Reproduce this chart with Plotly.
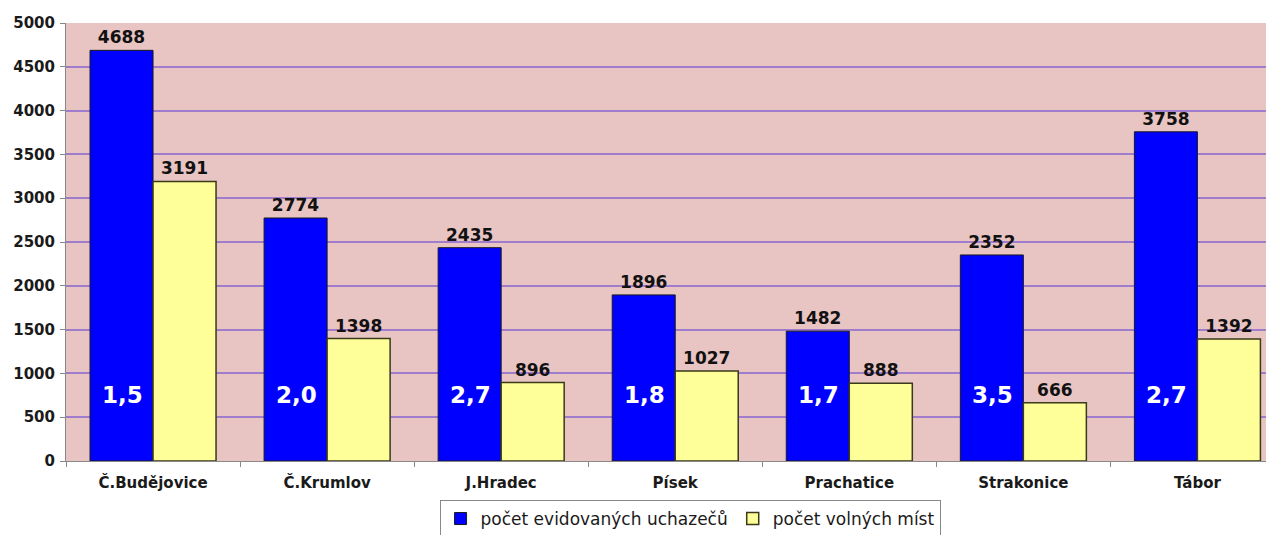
import plotly.graph_objects as go

categories = ["Č.Budějovice", "Č.Krumlov", "J.Hradec", "Písek", "Prachatice", "Strakonice", "Tábor"]
uchazeci = [4688, 2774, 2435, 1896, 1482, 2352, 3758]
volna_mista = [3191, 1398, 896, 1027, 888, 666, 1392]
pomer = ["1,5", "2,0", "2,7", "1,8", "1,7", "3,5", "2,7"]
y_ticks = [0, 500, 1000, 1500, 2000, 2500, 3000, 3500, 4000, 4500, 5000]

FONT = "DejaVu Sans"

fig = go.Figure()
fig.add_trace(go.Bar(
    x=categories, y=uchazeci, name="počet evidovaných uchazečů",
    marker=dict(color="#0000FF", line=dict(color="#1a1a1a", width=1)),
    text=[str(v) for v in uchazeci], textposition="outside",
    textfont=dict(family=FONT, size=17, color="#111111"),
    texttemplate="<b>%{text}</b>", cliponaxis=False,
))
fig.add_trace(go.Bar(
    x=categories, y=volna_mista, name="počet volných míst",
    marker=dict(color="#FFFF99", line=dict(color="#3a3a1a", width=1.5)),
    text=[str(v) for v in volna_mista], textposition="outside",
    textfont=dict(family=FONT, size=17, color="#111111"),
    texttemplate="<b>%{text}</b>", cliponaxis=False,
))

for c, p in zip(categories, pomer):
    fig.add_annotation(
        x=c, y=750, text=f"<b>{p}</b>", showarrow=False, xshift=-31,
        font=dict(family=FONT, size=23, color="white"),
    )

fig.update_layout(
    width=1266, height=527,
    margin=dict(l=58, r=0, t=15, b=74, autoexpand=False),
    paper_bgcolor="white",
    plot_bgcolor="#E8C4C2",
    barmode="group", bargap=0.276, bargroupgap=0,
    showlegend=True,
    legend=dict(
        orientation="h", x=0.5166, xanchor="center", y=-0.089, yanchor="top",
        bgcolor="white", bordercolor="#888888", borderwidth=1,
        font=dict(family=FONT, size=17, color="#1a1a1a"),
        traceorder="normal",
    ),
    font=dict(family=FONT),
)
fig.update_xaxes(
    range=[-0.5, 6.44], showgrid=False, automargin=False,
    showline=True, linecolor="#888888", linewidth=1,
    ticks="outside", ticklen=5, tickcolor="#888888", tickson="boundaries",
    ticklabelstandoff=8,
    tickfont=dict(family=FONT, size=15, color="#1a1a1a"),
    tickmode="array", tickvals=categories,
    ticktext=[f"<b>{c}</b>" for c in categories],
)
fig.update_yaxes(
    range=[0, 5000], tickvals=y_ticks, automargin=False,
    ticktext=[f"<b>{v}</b>" for v in y_ticks],
    showgrid=True, gridcolor="#A07CCC", gridwidth=2,
    showline=True, linecolor="#888888", linewidth=1,
    ticks="outside", ticklen=5, tickcolor="#888888",
    ticklabelstandoff=2,
    tickfont=dict(family=FONT, size=15, color="#1a1a1a"),
    zeroline=False,
)

fig.write_html("out.html")
